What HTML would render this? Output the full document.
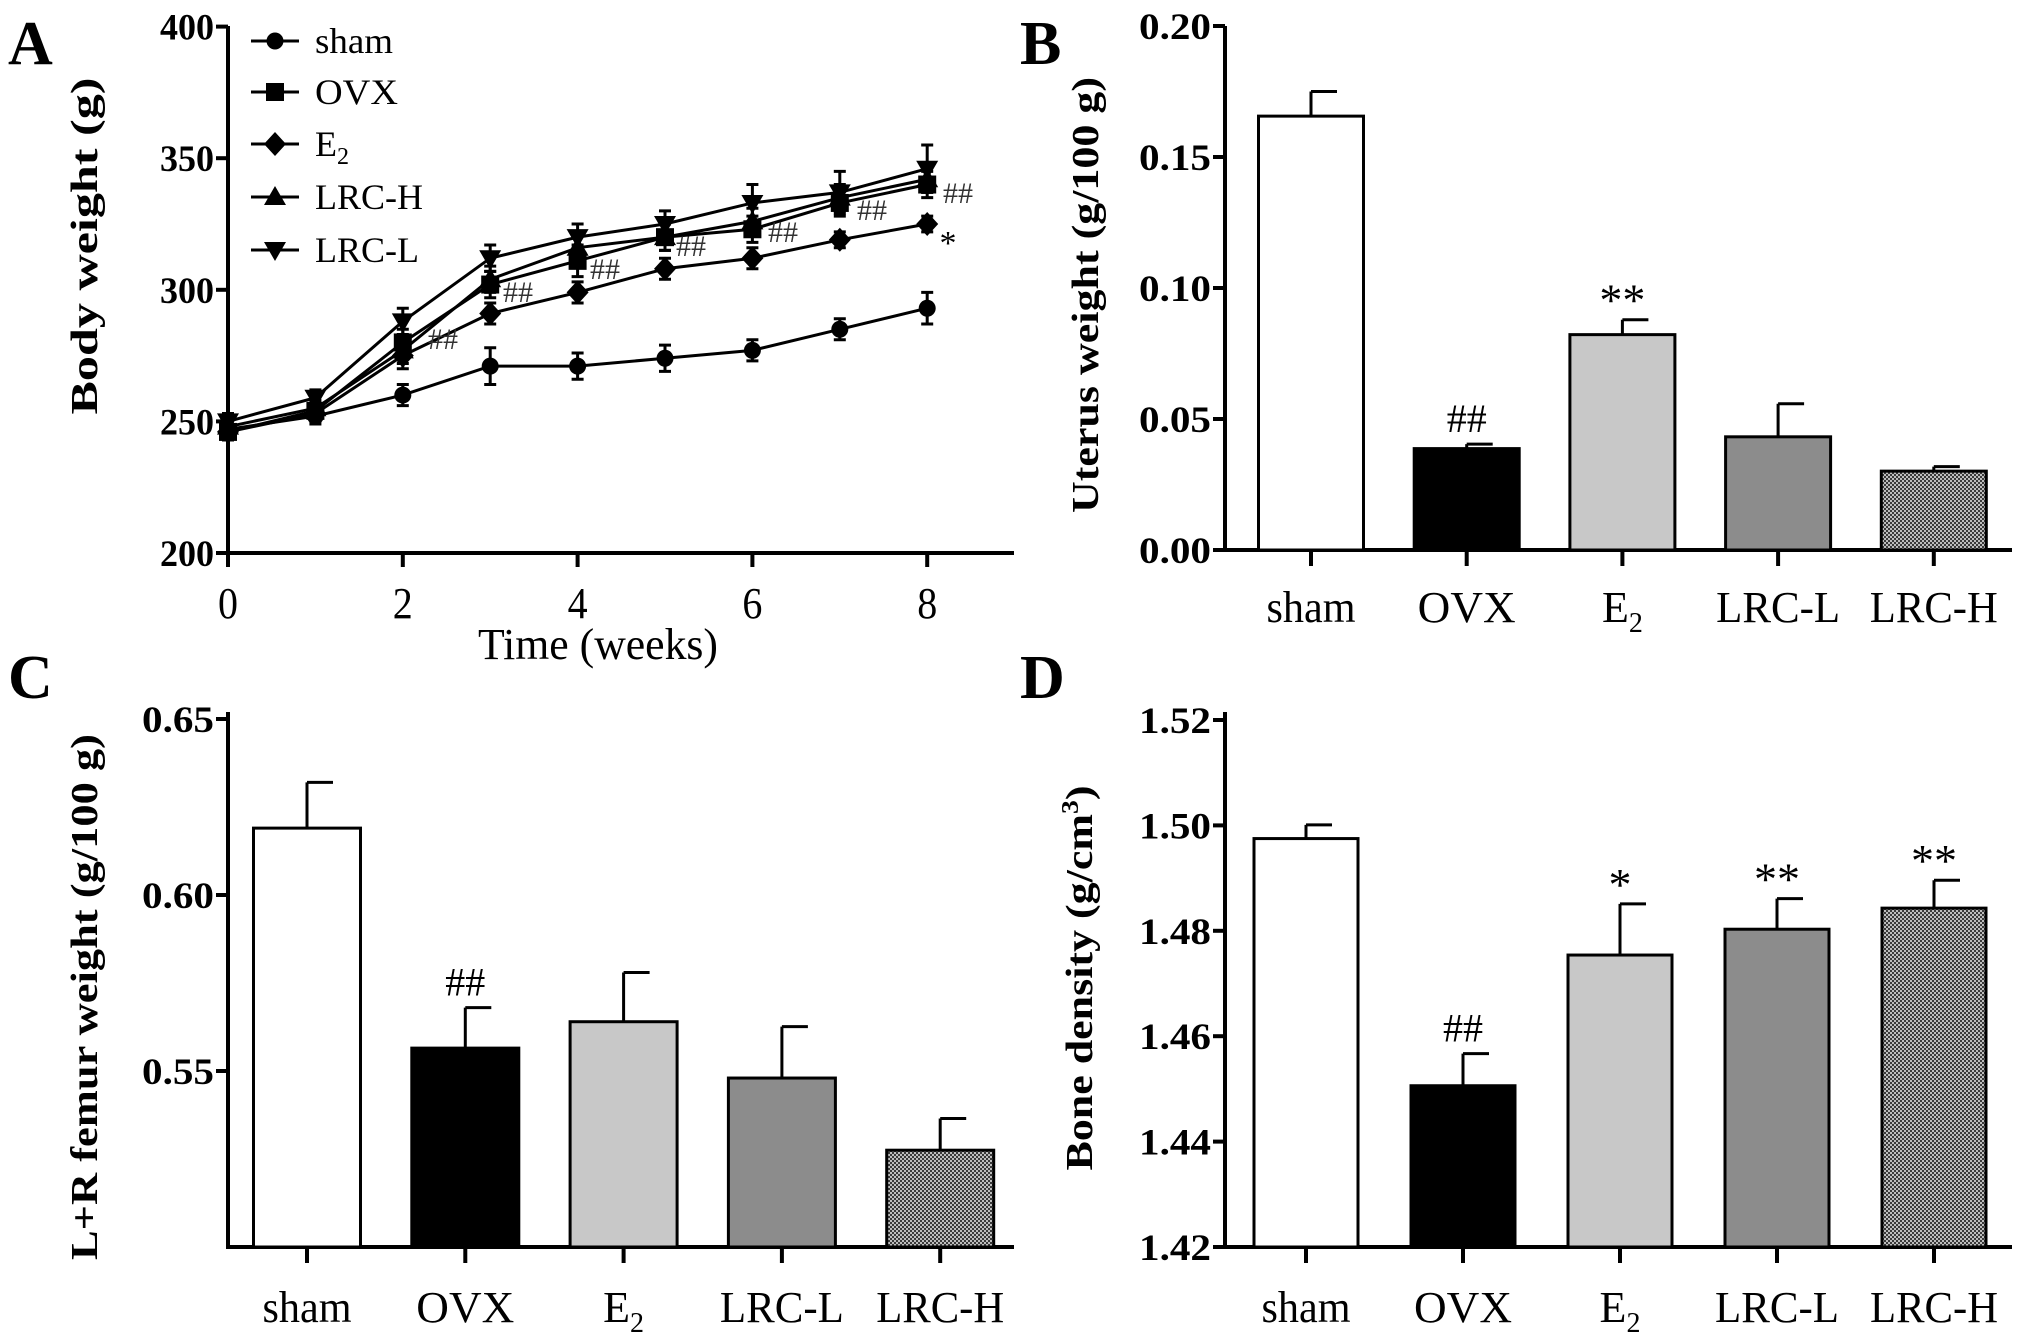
<!DOCTYPE html>
<html><head><meta charset="utf-8"><style>
html,body{margin:0;padding:0;background:#fff}
svg{display:block}
text{font-family:"Liberation Serif",serif;fill:#000}
.tk{font-weight:bold;font-size:37px}
.yl{font-weight:bold;font-size:38px}
.cat{font-size:44px}
.let{font-weight:bold;font-size:62px}
.ann{font-size:30px;fill:#333}
</style></head><body>
<svg id="fig" width="2031" height="1339" viewBox="0 0 2031 1339" xmlns="http://www.w3.org/2000/svg">
<defs>
<pattern id="chk" width="4" height="4" patternUnits="userSpaceOnUse">
<rect width="4" height="4" fill="#bdbdbd"/><rect width="2" height="2" fill="#3a3a3a"/><rect x="2" y="2" width="2" height="2" fill="#3a3a3a"/>
</pattern>
</defs>
<g id="pA"></g>
<g id="pB"></g>
<g id="pC"></g>
<g id="pD"></g>
</svg>
<script>
// Panel A data
const weeks = [0,1,2,3,4,5,6,7,8];
const seriesNames = ["sham","OVX","E2","LRC-H","LRC-L"];
const shamW = [247,252,260,271,271,274,277,285,293];
const ovxW  = [246,254,280,302,311,320,323,333,340];
const e2W   = [246,253,275,291,299,308,312,319,325];
const lrchW = [248,255,277,304,316,320,326,335,342];
const lrclW = [250,259,288,312,320,325,333,337,346];
const shamE = [4,3,4,7,5,5,4,4,6];
const ovxE  = [3,3,5,5,6,5,5,5,5];
const e2E   = [3,3,5,4,4,4,4,3,3];
const lrchE = [3,3,5,5,5,5,5,5,5];
const lrclE = [3,3,5,5,5,5,7,8,9];
const aTicksY = [200,250,300,350,400];
const aTicksX = [0,2,4,6,8];
// Bar data
const cats = ["sham","OVX","E2","LRC-L","LRC-H"];
const uterus = [0.1656,0.0387,0.0822,0.0432,0.0301];
const uterusErr = [0.0094,0.0017,0.0057,0.0126,0.0017];
const uterusTicks = ["0.00","0.05","0.10","0.15","0.20"];
const uterusMarks = ["","##","**","",""];
const femur = [0.619,0.5565,0.564,0.548,0.5275];
const femurErr = [0.013,0.0115,0.014,0.0146,0.009];
const femurTicks = ["0.55","0.60","0.65"];
const femurMarks = ["","##","","",""];
const bone = [1.4975,1.4506,1.4754,1.4803,1.4843];
const boneErr = [0.0026,0.0061,0.0097,0.0058,0.0053];
const boneTicks = ["1.42","1.44","1.46","1.48","1.50","1.52"];
const boneMarks = ["","##","*","**","**"];
const catWidths = {"sham":89,"OVX":98,"E2":44,"LRC-L":124,"LRC-H":128};

const NS="http://www.w3.org/2000/svg";
function mk(parent,tag,attrs,txt){const e=document.createElementNS(NS,tag);for(const k in attrs)e.setAttribute(k,attrs[k]);if(txt!==undefined)e.textContent=txt;parent.appendChild(e);return e;}
function catLabel(g,x,y,c){
  const t=mk(g,'text',{x:x,y:y,'text-anchor':'middle',class:'cat'});
  if(c==="E2"){t.textContent="E";mk(t,'tspan',{dy:10,'font-size':28},"2");}
  else {t.textContent=c;t.setAttribute('textLength',catWidths[c]);t.setAttribute('lengthAdjust','spacingAndGlyphs');}
  return t;
}

// ---------- Panel A ----------
(function(){
  const g=document.getElementById('pA');
  const x=w=>228+w*87.4, y=v=>553-(v-200)*2.632;
  let l=mk(g,'text',{x:8,y:64,class:'let'},"A");
  
  
  const ax=mk(g,'path',{d:`M228 26 V553 H1014`,stroke:'#000','stroke-width':4,fill:'none'});
  
  
  aTicksY.forEach(v=>{
    mk(g,'line',{x1:216,x2:228,y1:y(v),y2:y(v),stroke:'#000','stroke-width':4});
    const t=mk(g,'text',{x:214,y:y(v)+13,'text-anchor':'end',class:'tk',textLength:54,lengthAdjust:'spacingAndGlyphs'},v);
    
    
  });
  aTicksX.forEach(v=>{
    mk(g,'line',{x1:x(v),x2:x(v),y1:553,y2:567,stroke:'#000','stroke-width':4});
    const t=mk(g,'text',{x:x(v),y:618,'text-anchor':'middle',class:'cat','font-size':46,textLength:20,lengthAdjust:'spacingAndGlyphs'},v);
    
    
  });
  let xt=mk(g,'text',{x:598,y:659,'text-anchor':'middle',class:'cat',textLength:240,lengthAdjust:'spacingAndGlyphs'},"Time (weeks)");
  
  
  let yt=mk(g,'text',{x:0,y:0,'text-anchor':'middle',class:'yl',transform:'translate(97,246) rotate(-90)',textLength:337,lengthAdjust:'spacingAndGlyphs'},"Body weight (g)");
  
  
  const data=[shamW,ovxW,e2W,lrchW,lrclW], errs=[shamE,ovxE,e2E,lrchE,lrclE];
  function marker(par,i,cx,cy){
    let m;
    if(i===0) m=mk(par,'circle',{cx:cx,cy:cy,r:8.5});
    else if(i===1) m=mk(par,'rect',{x:cx-9,y:cy-9,width:18,height:18});
    else if(i===2) m=mk(par,'path',{d:`M${cx} ${cy-12} L${cx+11} ${cy} L${cx} ${cy+12} L${cx-11} ${cy}Z`});
    else if(i===3) m=mk(par,'path',{d:`M${cx} ${cy-11} L${cx+11} ${cy+8} L${cx-11} ${cy+8}Z`});
    else m=mk(par,'path',{d:`M${cx} ${cy+11} L${cx+11} ${cy-8} L${cx-11} ${cy-8}Z`});
    m.setAttribute('fill','#000');
    return m;
  }
  data.forEach((s,i)=>{
    const sg=mk(g,'g',{});
    
    
    mk(sg,'polyline',{points:weeks.map((w,j)=>x(w)+','+y(s[j])).join(' '),fill:'none',stroke:'#000','stroke-width':3});
    weeks.forEach((w,j)=>{
      const cx=x(w),cy=y(s[j]),e=errs[i][j];
      mk(sg,'path',{d:`M${cx} ${y(s[j]-e)} V${y(s[j]+e)} M${cx-6} ${y(s[j]-e)} H${cx+6} M${cx-6} ${y(s[j]+e)} H${cx+6}`,stroke:'#000','stroke-width':3,fill:'none'});
      const m=marker(sg,i,cx,cy);
      
      
    });
  });
  const legY=[41,92,144,197,250];
  const legTxt=["sham","OVX","E2","LRC-H","LRC-L"];
  const legW=[78,83,0,108,104];
  legY.forEach((ly,i)=>{
    const lg=mk(g,'g',{});
    
    
    mk(lg,'line',{x1:251,x2:299,y1:ly,y2:ly,stroke:'#000','stroke-width':3});
    marker(lg,i,275,ly);
    const t=mk(lg,'text',{x:315,y:ly+12,'font-size':36});
    if(legTxt[i]==="E2"){t.textContent="E";mk(t,'tspan',{dy:8,'font-size':24},"2");}
    else {t.textContent=legTxt[i];t.setAttribute('textLength',legW[i]);t.setAttribute('lengthAdjust','spacingAndGlyphs');}
  });
  const hashes=[[443,338],[518,291],[605,268],[691,245],[783,231],[872,209],[958,192]];
  hashes.forEach(p=>{const t=mk(g,'text',{x:p[0],y:p[1]+11,'text-anchor':'middle',class:'ann','font-size':30},"##");
    
    });
  const st=mk(g,'text',{x:948,y:254,'text-anchor':'middle','font-size':34},"*");
  
  
})();

// ---------- Bar panels ----------
const fills=["#fff","#000","#c8c8c8","#8c8c8c","url(#chk)"];
function barPanel(id,o){
  const g=document.getElementById(id);
  const y=v=>o.y0-(v-o.v0)*o.k;
  const l=mk(g,'text',{x:o.lx,y:o.ly,class:'let'},o.letter);
  
  
  const ax=mk(g,'path',{d:`M${o.ax} ${o.top} V${o.y0} H${o.right}`,stroke:'#000','stroke-width':4,fill:'none'});
  
  
  o.ticks.forEach(tv=>{
    const v=parseFloat(tv);
    mk(g,'line',{x1:o.ax-12,x2:o.ax,y1:y(v),y2:y(v),stroke:'#000','stroke-width':4});
    const t=mk(g,'text',{x:o.ax-14,y:y(v)+13,'text-anchor':'end',class:'tk',textLength:72,lengthAdjust:'spacingAndGlyphs'},tv);
    
    
  });
  const yt=mk(g,'text',{x:0,y:0,'text-anchor':'middle',class:'yl',transform:`translate(${o.tx},${o.tcy}) rotate(-90)`,textLength:o.tlen,lengthAdjust:'spacingAndGlyphs'},o.title);
  if(o.sup){mk(yt,'tspan',{dy:-14,'font-size':24},"3");mk(yt,'tspan',{dy:14},")");}
  
  
  o.vals.forEach((v,i)=>{
    const cx=o.x0+i*o.step;
    const e=o.err[i];
    mk(g,'path',{d:`M${cx} ${y(v)} V${y(v+e)} M${cx} ${y(v+e)} H${cx+o.cap}`,stroke:'#000','stroke-width':3,fill:'none'});
    const b=mk(g,'rect',{x:cx-o.bw/2,y:y(v),width:o.bw,height:o.y0-y(v),fill:fills[i],stroke:'#000','stroke-width':3});
    
    
    mk(g,'line',{x1:cx,x2:cx,y1:o.y0,y2:o.y0+16,stroke:'#000','stroke-width':4});
    const c=catLabel(g,cx,o.cy,cats[i]);
    
    
    if(o.marks[i]){
      const isH=o.marks[i][0]==="#";
      const t=mk(g,'text',{x:cx,y:y(v+e)-(isH?12:4),'text-anchor':'middle','font-size':isH?40:46,fill:isH?'#333':'#000'},o.marks[i]);
      
      
    }
  });
}
barPanel('pB',{letter:"B",lx:1020,ly:64,ax:1225,top:26,y0:550,right:2012,v0:0,k:2620,ticks:uterusTicks,
  vals:uterus,err:uterusErr,marks:uterusMarks,x0:1311,step:155.7,bw:105,cap:26,cy:622,
  title:"Uterus weight (g/100 g)",tx:1098,tcy:295,tlen:436});
barPanel('pC',{letter:"C",lx:8,ly:698,ax:228,top:712,y0:1247,right:1014,v0:0.5,k:3520,ticks:femurTicks,
  vals:femur,err:femurErr,marks:femurMarks,x0:307,step:158.3,bw:107,cap:26,cy:1322,
  title:"L+R femur weight (g/100 g)",tx:97,tcy:997,tlen:526});
barPanel('pD',{letter:"D",lx:1020,ly:698,ax:1225,top:712,y0:1247,right:2012,v0:1.42,k:5270,ticks:boneTicks,
  vals:bone,err:boneErr,marks:boneMarks,x0:1306,step:157,bw:104,cap:26,cy:1322,
  title:"Bone density (g/cm",sup:true,tx:1092,tcy:978,tlen:385});
</script>
</body></html>
